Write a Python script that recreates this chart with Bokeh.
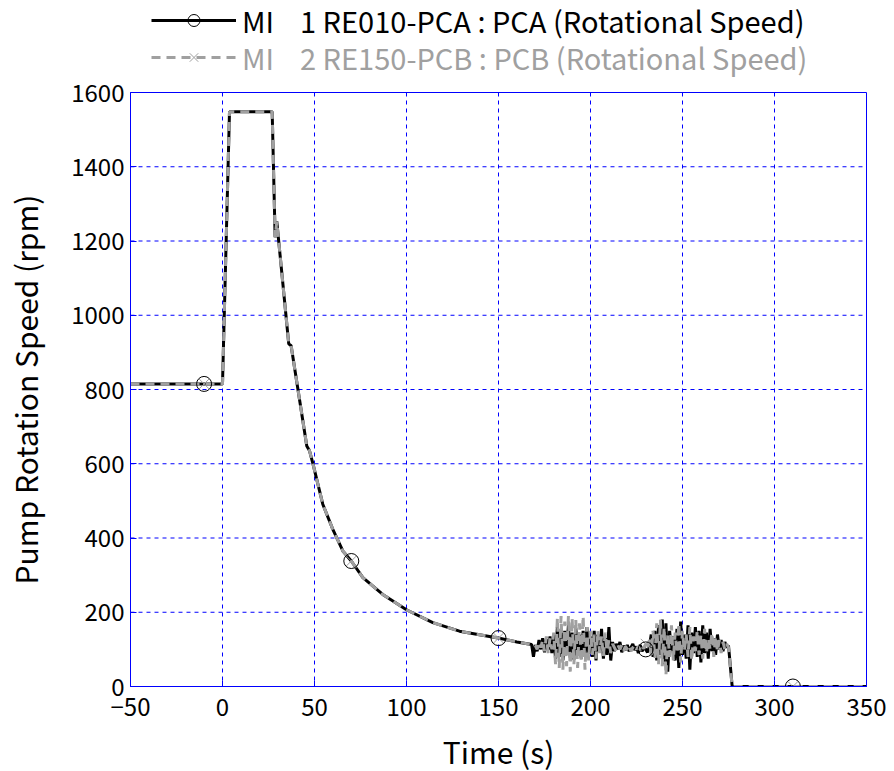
import numpy as np
from bokeh.plotting import figure
from bokeh.layouts import column
from bokeh.models import Legend, LegendItem, Range1d, FixedTicker, Span
from bokeh.embed import file_html
from bokeh.resources import INLINE

FONT = "Noto Sans CJK JP"

# ---- data ----
# smooth part shared by both pumps (time s, speed rpm)
t_main = [-50, 0, 3.8, 27, 28.6, 29.5, 36.0, 37.3, 45.8, 47.3, 49.1, 54.5, 59.9,
          65.4, 70, 76.3, 87.1, 100.2, 114.3, 128.8, 150.5, 160, 168]
v_main = [815, 815, 1548, 1548, 1210, 1253, 923, 918, 648, 635, 601, 491, 424,
          365, 338, 293, 248, 206, 172, 149, 130, 120, 113]

# noisy part, 1 s samples from 169 s to 275 s
t_noise = list(range(169, 276))
pca_noise = [80, 112, 95, 125, 100, 130, 92, 128, 98, 135, 90, 140,
             75, 160, 80, 155, 70, 150, 85, 165, 78, 145, 72, 158, 90, 140, 75, 150, 82, 160, 88, 135,
             80, 150, 70, 140, 95, 155, 75, 130, 85, 160, 70, 120,
             95, 115, 100, 120, 92, 110, 98, 112, 95, 105, 115, 98, 108, 90, 112, 95, 105, 100, 92, 108,
             140, 80, 150, 70, 165, 85, 180, 60, 170, 40, 150, 95, 135, 70, 155, 50, 175, 85, 140, 75, 165, 45, 145, 90,
             160, 80, 150, 65, 165, 90, 145, 75, 155, 95, 130, 85, 140, 100, 125, 95, 120, 105, 110]
pcb_noise = [108, 110, 100, 120, 105, 125, 95, 135, 90, 130, 100, 145,
             60, 185, 50, 190, 45, 175, 55, 190, 40, 185, 60, 180, 50, 170, 65, 190, 45, 160, 70, 150,
             85, 140, 75, 150, 90, 135, 80, 145, 95, 125, 90, 115,
             105, 95, 110, 100, 112, 96, 108, 100, 110, 95, 105, 112, 100, 108, 98, 110, 102, 115, 100, 125,
             85, 150, 75, 170, 60, 180, 55, 160, 30, 140, 80, 165, 70, 145, 90, 170, 65, 150, 95, 140, 80, 160, 70, 135,
             95, 150, 85, 140, 75, 155, 90, 130, 100, 145, 80, 135, 95, 125, 90, 120, 100, 115, 105]

# pumps stopped
t_tail = [277, 350]
v_tail = [0, 0]

marker_t = [-10, 70, 150, 230, 310]

x_ticks = [-50, 0, 50, 100, 150, 200, 250, 300, 350]
y_ticks = [0, 200, 400, 600, 800, 1000, 1200, 1400, 1600]

label1 = "MI\u00a0\u00a0\u00a0\u00a01 RE010-PCA : PCA (Rotational Speed)"
label2 = "MI\u00a0\u00a0\u00a0\u00a02 RE150-PCB : PCB (Rotational Speed)"

# ---- assemble series ----
t1 = t_main + t_noise + t_tail
v1 = v_main + pca_noise + v_tail
t2 = t_main + t_noise + t_tail
v2 = v_main + pcb_noise + v_tail
mk1 = [float(v) for v in np.interp(marker_t, t1, v1)]
mk2 = [float(v) for v in np.interp(marker_t, t2, v2)]

BLUE = "#0000ff"
GRAY = "#a0a0a0"

FW, FH = 736, 594
LB, RB = 123, 22
W = LB + FW + RB

# ---- style helpers ----
def style_line1(fig, xs, ys):
    return fig.line(xs, ys, line_color="black", line_width=3)

def style_line2(fig, xs, ys):
    return fig.line(xs, ys, line_color=GRAY, line_width=3, line_dash="9 6")

def style_mk1(fig, xs, ys):
    return fig.scatter(xs, ys, marker="circle", size=15, fill_color=None,
                       line_color="black", line_width=1)

def style_mk2(fig, xs, ys):
    return fig.scatter(xs, ys, marker="x", size=14, line_color=GRAY, line_width=1)

# ---- main chart ----
p = figure(frame_width=FW, frame_height=FH,
           x_range=Range1d(-50, 350), y_range=Range1d(0, 1600),
           output_backend="svg", toolbar_location=None,
           min_border_left=LB, min_border_right=RB, min_border_bottom=60,
           min_border_top=14)

# dashed blue grid drawn as individual spans at the tick positions
p.grid.visible = False
for xt in x_ticks[1:-1]:
    p.add_layout(Span(location=xt, dimension="height", line_color=BLUE,
                      line_width=1, line_dash="4 4", level="underlay"))
for yt in y_ticks[1:-1]:
    p.add_layout(Span(location=yt, dimension="width", line_color=BLUE,
                      line_width=1, line_dash="4 4", level="underlay"))

style_line1(p, t1, v1)
style_line2(p, t2, v2)
style_mk2(p, marker_t, mk2)
style_mk1(p, marker_t, mk1)

for ax in (p.xaxis[0], p.yaxis[0]):
    ax.axis_line_color = BLUE
    ax.major_tick_line_color = BLUE
    ax.major_tick_in = 6
    ax.major_tick_out = 0
    ax.minor_tick_line_color = None
    ax.major_label_text_font = FONT
    ax.major_label_text_font_size = "24px"
    ax.major_label_text_color = "black"
    ax.axis_label_text_font = FONT
    ax.axis_label_text_font_size = "30px"
    ax.axis_label_text_font_style = "normal"
    ax.axis_label_text_color = "black"

p.xaxis.ticker = FixedTicker(ticks=x_ticks)
p.yaxis.ticker = FixedTicker(ticks=y_ticks)
p.xaxis.axis_label = "Time (s)"
p.yaxis.axis_label = "Pump Rotation Speed (rpm)"
p.xaxis.major_label_standoff = 11
p.yaxis.major_label_standoff = 6
p.xaxis.axis_label_standoff = 10
p.yaxis.axis_label_standoff = 21

p.outline_line_color = BLUE
p.outline_line_width = 1
p.outline_line_alpha = 1
p.background_fill_color = "white"
p.border_fill_color = "white"

# ---- legend band above the chart ----
# same series drawn again, but outside this band's visible range, only to key the legend
lf = figure(width=W, height=78, x_range=Range1d(1000, 1001), y_range=Range1d(5000, 5001),
            output_backend="svg", toolbar_location=None,
            x_axis_type=None, y_axis_type=None, min_border=0)
lf.outline_line_color = None
lf.grid.visible = False

k1 = style_line1(lf, t1, v1)
k2 = style_line2(lf, t2, v2)
q2 = style_mk2(lf, marker_t, mk2)
q1 = style_mk1(lf, marker_t, mk1)

def make_legend(items, color, loc):
    return Legend(items=items, location=loc, orientation="horizontal",
                  glyph_width=85, glyph_height=30, label_height=30,
                  label_standoff=6, padding=0, margin=0, spacing=0,
                  label_text_font=FONT, label_text_font_size="29px",
                  label_text_color=color, border_line_color=None,
                  background_fill_alpha=0)

leg1 = make_legend([LegendItem(label=label1, renderers=[k1, q1])], "black", (21, 37))
leg2 = make_legend([LegendItem(label=label2, renderers=[k2, q2])], GRAY, (21, 0))
lf.add_layout(leg1)
lf.add_layout(leg2)

layout = column(lf, p, spacing=0)

open("out.html", "w").write(file_html(layout, INLINE))
